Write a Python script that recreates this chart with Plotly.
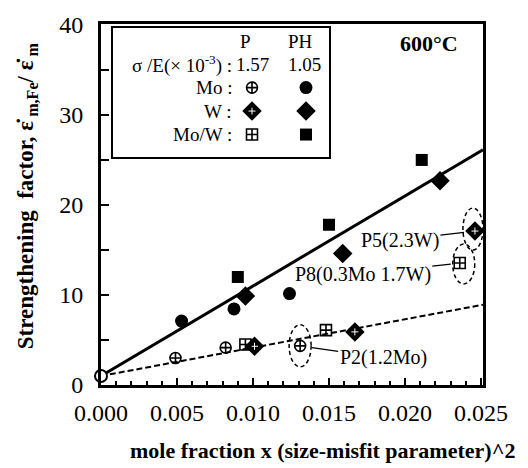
import plotly.graph_objects as go

# ---- data -------------------------------------------------------------
# pure iron reference point
FE_X = [0.0]
FE_Y = [1.0]

# PH alloys (filled symbols)
PH_MO_X = [0.0053, 0.00875, 0.0124]
PH_MO_Y = [7.1, 8.45, 10.15]
PH_W_X = [0.0095, 0.0159, 0.0223]
PH_W_Y = [9.9, 14.6, 22.7]
PH_MOW_X = [0.0090, 0.0150, 0.0211]
PH_MOW_Y = [12.0, 17.8, 25.0]

# P alloys (crossed symbols)
P_MO_X = [0.0049, 0.0082, 0.0131]
P_MO_Y = [3.0, 4.15, 4.35]
P_W_X = [0.0101, 0.0167, 0.0246]
P_W_Y = [4.3, 5.9, 17.1]
P_MOW_X = [0.0095, 0.0148, 0.0236]
P_MOW_Y = [4.5, 6.1, 13.55]

# linear fits through the pure-Fe point
FIT_INTERCEPT = 1.0
PH_SLOPE = 1000.0
P_SLOPE = 315.0

X_TICKS = [0.000, 0.005, 0.010, 0.015, 0.020, 0.025]
Y_TICKS = [0, 10, 20, 30, 40]
X_MAX = 0.02513
Y_MAX = 40.1

SIGMA_E = {"P": "1.57", "PH": "1.05"}

FONT = "Liberation Serif"
BLACK = "black"

# plot-area geometry in pixels (used for the key overlay and titles)
PX_L, PX_R, PX_T, PX_B = 101, 483, 16, 385

fig = go.Figure()

# fit lines
fit_x = [0.0, X_MAX]
fig.add_trace(go.Scatter(
    x=fit_x, y=[FIT_INTERCEPT + PH_SLOPE * v for v in fit_x],
    mode="lines", line=dict(color=BLACK, width=3)))
fig.add_trace(go.Scatter(
    x=fit_x, y=[FIT_INTERCEPT + P_SLOPE * v for v in fit_x],
    mode="lines", line=dict(color=BLACK, width=2, dash="6px,3px")))

# PH series
fig.add_trace(go.Scatter(x=PH_MO_X, y=PH_MO_Y, mode="markers",
                         marker=dict(symbol="circle", size=13, color=BLACK)))
fig.add_trace(go.Scatter(x=PH_W_X, y=PH_W_Y, mode="markers",
                         marker=dict(symbol="diamond", size=15, color=BLACK)))
fig.add_trace(go.Scatter(x=PH_MOW_X, y=PH_MOW_Y, mode="markers",
                         marker=dict(symbol="square", size=12, color=BLACK)))

# P series
fig.add_trace(go.Scatter(x=P_MO_X, y=P_MO_Y, mode="markers",
                         marker=dict(symbol="circle-cross-open", size=11, color=BLACK,
                                     line=dict(color=BLACK, width=1.6))))
# crossed diamond: solid diamond with a small white cross on top
fig.add_trace(go.Scatter(x=P_W_X, y=P_W_Y, mode="markers",
                         marker=dict(symbol="diamond", size=15, color=BLACK,
                                     line=dict(width=0))))
fig.add_trace(go.Scatter(x=P_W_X, y=P_W_Y, mode="markers",
                         marker=dict(symbol="cross-thin-open", size=5, color="white",
                                     line=dict(color="white", width=1))))
fig.add_trace(go.Scatter(x=P_MOW_X, y=P_MOW_Y, mode="markers",
                         marker=dict(symbol="square-cross-open", size=11, color=BLACK,
                                     line=dict(color=BLACK, width=1.6))))

# pure Fe
fig.add_trace(go.Scatter(x=FE_X, y=FE_Y, mode="markers", cliponaxis=False,
                         marker=dict(symbol="circle", size=12, color="white",
                                     line=dict(color=BLACK, width=2))))

# ---- key (drawn on an overlay axis measured in pixels) -----------------
key_cols = {"P": 252, "PH": 306}
key_rows = [("Mo :", 81, "circle", 13),
            ("W :", 105, "diamond", 15),
            ("Mo/W :", 129, "square", 12)]
for label, yy, sym, sz in key_rows:
    if sym == "diamond":
        fig.add_trace(go.Scatter(
            x=[key_cols["P"]], y=[yy], xaxis="x2", yaxis="y2", mode="markers",
            marker=dict(symbol="diamond", size=15, color=BLACK, line=dict(width=0))))
        fig.add_trace(go.Scatter(
            x=[key_cols["P"]], y=[yy], xaxis="x2", yaxis="y2", mode="markers",
            marker=dict(symbol="cross-thin-open", size=5, color="white",
                        line=dict(color="white", width=1))))
    else:
        fig.add_trace(go.Scatter(
            x=[key_cols["P"]], y=[yy], xaxis="x2", yaxis="y2", mode="markers",
            marker=dict(symbol=sym + "-cross-open", size=11, color=BLACK,
                        line=dict(color=BLACK, width=1.6))))
    fig.add_trace(go.Scatter(
        x=[key_cols["PH"]], y=[yy], xaxis="x2", yaxis="y2", mode="markers",
        marker=dict(symbol=sym, size=sz, color=BLACK)))

annotations = []


def px_text(text, x, y, size=19, xanchor="center", bold=False, **kw):
    if bold:
        text = "<b>" + text + "</b>"
    annotations.append(dict(text=text, x=x, y=y, xref="x2", yref="y2",
                            showarrow=False, xanchor=xanchor, yanchor="middle",
                            borderpad=0,
                            font=dict(family=FONT, size=size, color=BLACK), **kw))


def paper_text(text, px, py, size, **kw):
    annotations.append(dict(text="<b>" + text + "</b>",
                            x=(px - PX_L) / (PX_R - PX_L),
                            y=(PX_B - py) / (PX_B - PX_T),
                            xref="paper", yref="paper", showarrow=False,
                            xanchor="center", yanchor="middle",
                            font=dict(family=FONT, size=size, color=BLACK), **kw))


px_text("P", 245, 34)
px_text("PH", 300, 34)
px_text("σ /E(× 10<sup>-3</sup>) :", 233, 57, xanchor="right")
px_text(SIGMA_E["P"], 252, 57)
px_text(SIGMA_E["PH"], 304, 57)
for label, yy, *_ in key_rows:
    px_text(label, 233, yy, xanchor="right")

# temperature label
px_text("600°C", 429, 36, size=22, bold=True)

# axis titles
paper_text("mole fraction x (size-misfit parameter)^2", 322, 452, 22)
paper_text("Strengthening&nbsp;&nbsp;factor, ε\u0307<sub> m,Fe</sub>/ ε\u0307<sub> m</sub>",
           27, 192, 23, textangle=-90)

# ---- callouts for individual alloys ------------------------------------
callouts = [
    # text, x, y, ellipse half sizes (px), ellipse offset (px), label offset (px), standoff
    ("P2(1.2Mo)", P_MO_X[2], P_MO_Y[2], 11, 21, 0, 0, 83, 12, 12),
    ("P5(2.3W)", P_W_X[2], P_W_Y[2], 10, 21, -2, 2, -75, 9, 11),
    ("P8(0.3Mo 1.7W)", P_MOW_X[2], P_MOW_Y[2], 11, 20, 4, -1, -97, 11, 9),
]
shapes = []
for text, cx, cy, rx, ry, dx, dy, ax, ay, stand in callouts:
    shapes.append(dict(type="circle", xref="x", yref="y",
                       xsizemode="pixel", ysizemode="pixel",
                       xanchor=cx, yanchor=cy,
                       x0=dx - rx, x1=dx + rx, y0=dy - ry, y1=dy + ry,
                       line=dict(color=BLACK, width=1.5, dash="4px,3px")))
    annotations.append(dict(text=text, x=cx, y=cy, xref="x", yref="y",
                            showarrow=True, arrowhead=0, arrowwidth=1.3,
                            arrowcolor=BLACK, ax=ax, ay=ay, standoff=stand,
                            font=dict(family=FONT, size=20, color=BLACK)))

# key frame
shapes.append(dict(type="rect", xref="x2", yref="y2", x0=112, x1=330, y0=19, y1=153,
                   line=dict(color=BLACK, width=2), fillcolor="rgba(0,0,0,0)",
                   layer="below"))

axis_font = dict(family=FONT, size=24, color=BLACK)
fig.update_layout(
    width=528, height=468,
    margin=dict(l=PX_L, r=528 - PX_R, t=PX_T, b=468 - PX_B),
    plot_bgcolor="white", paper_bgcolor="white",
    showlegend=False,
    xaxis=dict(range=[0, X_MAX], tickvals=X_TICKS, tickformat=".3f",
               ticks="inside", ticklen=7, tickwidth=2, tickcolor=BLACK,
               minor=dict(dtick=0.001, tick0=0, ticks="inside", ticklen=4,
                          tickwidth=1.5, tickcolor=BLACK),
               showline=True, linewidth=3, linecolor=BLACK, mirror=True,
               showgrid=False, zeroline=False, tickfont=axis_font,
               ticklabelstandoff=4),
    yaxis=dict(range=[0, Y_MAX], tickvals=Y_TICKS,
               ticks="inside", ticklen=8, tickwidth=2, tickcolor=BLACK,
               minor=dict(dtick=5, tick0=0, ticks="inside", ticklen=8,
                          tickwidth=2, tickcolor=BLACK),
               showline=True, linewidth=3, linecolor=BLACK, mirror=True,
               showgrid=False, zeroline=False, tickfont=axis_font,
               ticklabelstandoff=10),
    xaxis2=dict(overlaying="x", range=[PX_L, PX_R], visible=False, anchor="y2"),
    yaxis2=dict(overlaying="y", range=[PX_B, PX_T], visible=False, anchor="x2"),
    annotations=annotations,
    shapes=shapes,
)

fig.write_html("out.html")
